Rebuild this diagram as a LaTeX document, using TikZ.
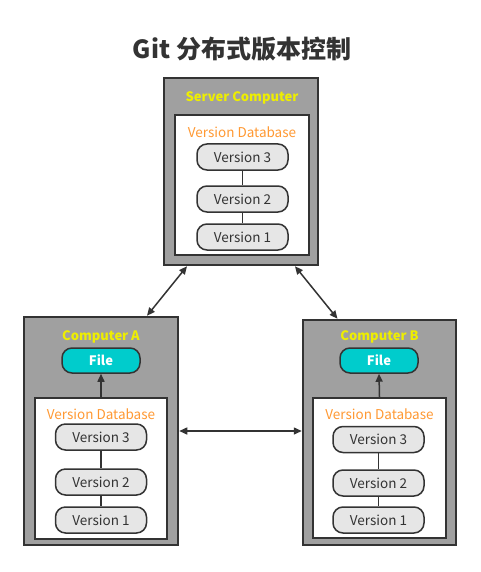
\documentclass[tikz,border=0pt]{standalone}
\usepackage{fontspec}
\setmainfont{Noto Sans CJK SC}
\usetikzlibrary{arrows.meta}

\definecolor{boxgray}{HTML}{A0A0A0}
\definecolor{edge}{HTML}{333333}
\definecolor{vgray}{HTML}{E6E6E6}
\definecolor{filecyan}{HTML}{00CCCC}
\definecolor{pcyellow}{HTML}{EEEE00}
\definecolor{dborange}{HTML}{FF9933}

% three stacked versions: x, y of v3, v2, v1, prefix
\newcommand{\versions}[5]{
\node[version] (#5v3) at (#1,#2) {Version 3};
\node[version] (#5v2) at (#1,#3) {Version 2};
\node[version] (#5v1) at (#1,#4) {Version 1};
\draw[link] (#5v3) -- (#5v2);
\draw[link] (#5v2) -- (#5v1);
}

\begin{document}
\begin{tikzpicture}[x=1pt, y=-1pt,
  >={Triangle[length=8pt,width=7pt]},
  outerbox/.style={draw=edge, line width=2.5pt, fill=boxgray, inner sep=0},
  dbbox/.style={draw=edge, line width=2pt, fill=white, inner sep=0},
  version/.style={draw=edge, line width=1.5pt, fill=vgray, rounded corners=10pt,
    minimum width=91pt, minimum height=26pt, inner sep=0, text=edge,
    font=\fontsize{13.5}{15}\selectfont},
  filenode/.style={draw=edge, line width=1.5pt, fill=filecyan, rounded corners=10pt,
    minimum width=78pt, minimum height=25pt, inner sep=0, text=white,
    font=\bfseries\fontsize{13}{15}\selectfont},
  pcname/.style={text=pcyellow, font=\bfseries\fontsize{13}{14}\selectfont},
  dbname/.style={text=dborange, font=\fontsize{13.5}{15}\selectfont},
  link/.style={draw=edge, line width=1.5pt},
  sync/.style={link, <->}]
\useasboundingbox (0,0) rectangle (481,572);

\node[font=\bfseries\fontsize{25}{28}\selectfont, text=edge] (title) at (242,49) {Git 分布式版本控制};

% server
\node[outerbox, minimum width=154pt, minimum height=187pt] (srv) at (241,171.5) {};
\node[dbbox, minimum width=134pt, minimum height=140pt] (srvdb) at (242,185) {};
\node[pcname] (srvname) at (242,98) {Server Computer};
\node[dbname] (srvdbname) at (242,132) {Version Database};
\versions{242.5}{157}{199}{237}{s}

% computer A
\node[outerbox, minimum width=154pt, minimum height=228pt] (pca) at (101,431) {};
\node[dbbox, minimum width=132pt, minimum height=141pt] (pcadb) at (101,468.5) {};
\node[pcname] (pcaname) at (101,337) {Computer A};
\node[filenode] (filea) at (101,360.5) {File};
\node[dbname] (pcadbname) at (101,414) {Version Database};
\versions{101}{437}{482}{520}{a}
\draw[link, ->] (pcadb.north) -- (filea.south);

% computer B
\node[outerbox, minimum width=153pt, minimum height=225pt] (pcb) at (379.5,432.5) {};
\node[dbbox, minimum width=133pt, minimum height=140pt] (pcbdb) at (379.5,468) {};
\node[pcname] (pcbname) at (379.5,337) {Computer B};
\node[filenode] (fileb) at (379,360.5) {File};
\node[dbname] (pcbdbname) at (379.5,414) {Version Database};
\versions{378.5}{439.5}{483}{520}{b}
\draw[link, ->] (pcbdb.north) -- (fileb.south);

% syncing
\path (srv.south) ++(-54,0) coordinate (srvl) ++(108,0) coordinate (srvr);
\path (pca.north) ++(46,0) coordinate (pcat);
\path (pcb.north) ++(-42,0) coordinate (pcbt);
\draw[sync] (srvl) -- (pcat);
\draw[sync] (srvr) -- (pcbt);
\draw[sync] (pca.east) -- (pca.east -| pcb.west);
\end{tikzpicture}
\end{document}
